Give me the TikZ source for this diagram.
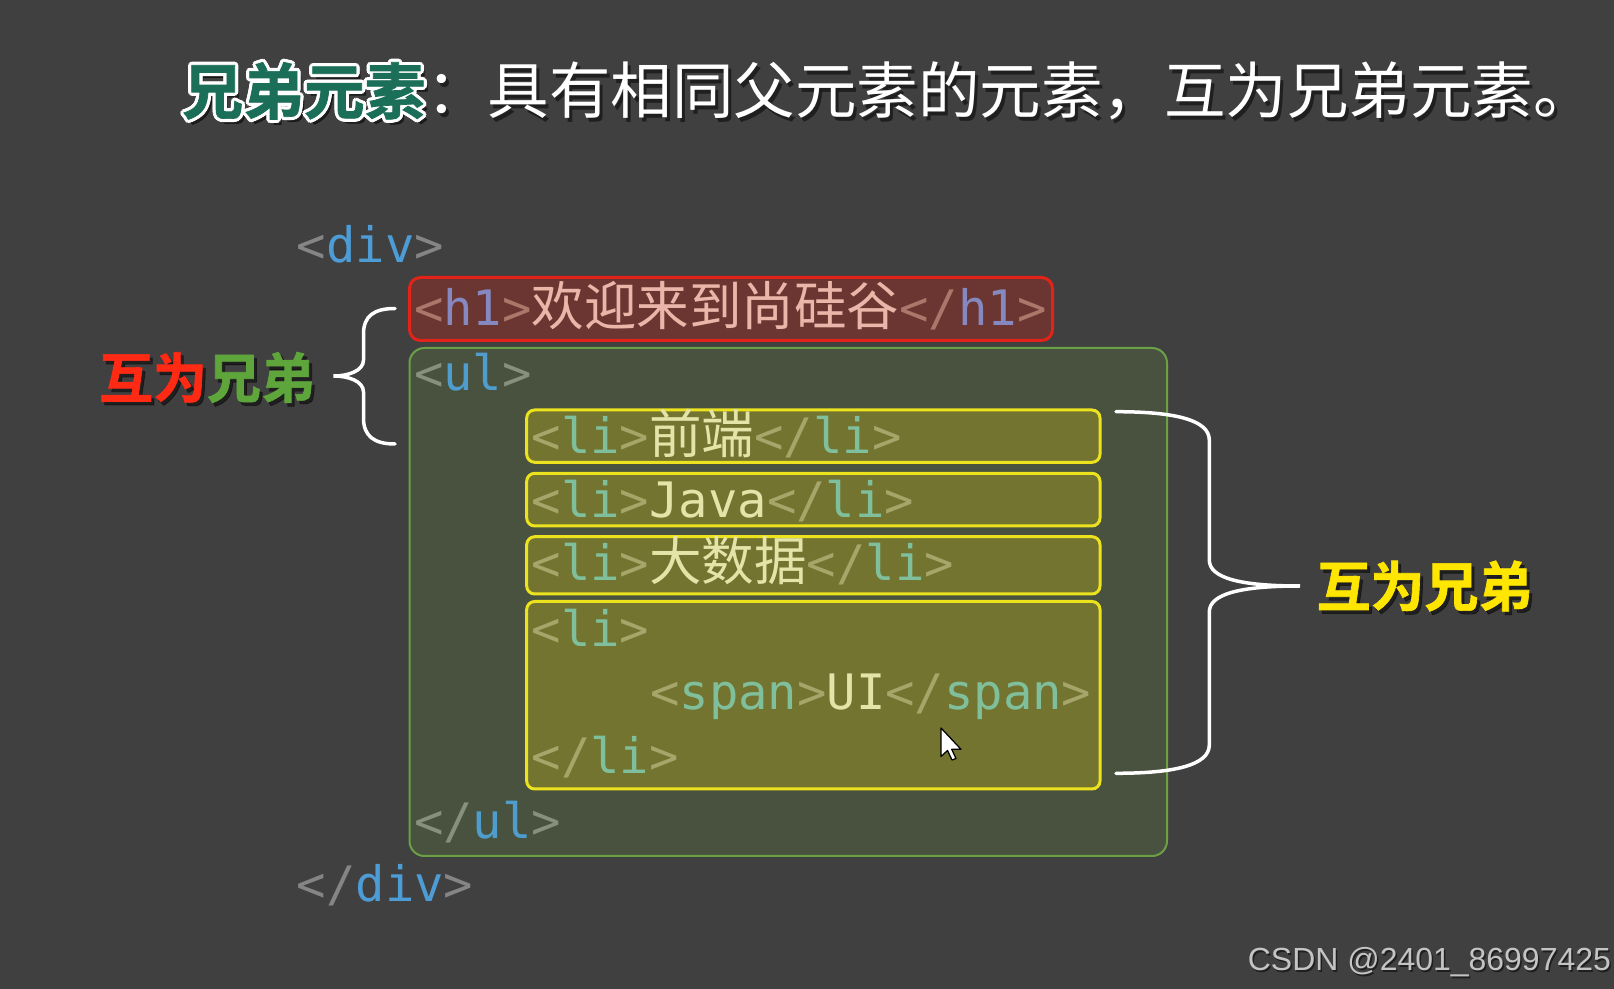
\documentclass[tikz,border=0pt]{standalone}
\usepackage{fontspec}
\usepackage{xcolor}
\usepackage{tikz}
\newfontfamily\cjk{Noto Sans CJK SC}
\newfontfamily\cjkheavy[FakeBold=1.2]{Noto Sans CJK SC Bold}
\newfontfamily\codefont{DejaVu Sans Mono}
\newfontfamily\markfont{Liberation Sans}
\definecolor{bgcolor}{HTML}{404040}
\definecolor{titlegreen}{HTML}{1B6E57}
\definecolor{sibred}{HTML}{FF2A14}
\definecolor{sibgreen}{HTML}{5EA63C}
\definecolor{sibyellow}{HTML}{FFE600}
\definecolor{divbracket}{HTML}{858585}
\definecolor{divname}{HTML}{4D9CD6}
\definecolor{hfill}{HTML}{6B3632}
\definecolor{hdraw}{HTML}{E2231A}
\definecolor{hbracket}{HTML}{AC766B}
\definecolor{hname}{HTML}{8688C0}
\definecolor{htext}{HTML}{EBB6A9}
\definecolor{ulfill}{HTML}{48523F}
\definecolor{uldraw}{HTML}{6BA046}
\definecolor{ulbracket}{HTML}{85907D}
\definecolor{ulname}{HTML}{4F9DCC}
\definecolor{lifill}{HTML}{737430}
\definecolor{lidraw}{HTML}{ECE21E}
\definecolor{libracket}{HTML}{A6A66A}
\definecolor{liname}{HTML}{80BF9B}
\definecolor{litext}{HTML}{E4E4A8}
\definecolor{markgray}{HTML}{C4C4C4}
\newcommand\tagopen[3]{\textcolor{#1}{<}\textcolor{#2}{#3}\textcolor{#1}{>}}
\newcommand\tagclose[3]{\textcolor{#1}{</}\textcolor{#2}{#3}\textcolor{#1}{>}}
\newcommand\zh[1]{{\cjk\fontsize{29.9}{32}\selectfont #1}}

\begin{document}
\begin{tikzpicture}[x=0.02cm, y=-0.02cm,
    codeline/.style={anchor=base west, inner sep=0pt,
                     font=\codefont\fontsize{27.8}{30}\selectfont},
    h1box/.style={draw=hdraw, fill=hfill, line width=0.06cm, rounded corners=0.22cm},
    ulbox/.style={draw=uldraw, fill=ulfill, line width=0.04cm, rounded corners=0.3cm},
    libox/.style={draw=lidraw, fill=lifill, line width=0.06cm, rounded corners=0.16cm},
    bracepath/.style={draw=white, line width=0.07cm, line cap=round},
    titlebold/.style={anchor=base west, inner sep=0pt, font=\cjkheavy\fontsize{34.6}{36}\selectfont},
    titleplain/.style={anchor=base west, inner sep=0pt, font=\cjk\fontsize{35}{36}\selectfont},
    sibtext/.style={inner sep=0pt, font=\cjkheavy\fontsize{30.7}{32}\selectfont},
    shadowtext/.style={text=black, text opacity=0.5}
]
\fill[bgcolor] (0,0) rectangle (1614,989);
\useasboundingbox (0,0) rectangle (1614,989);

% title
\node[titlebold, shadowtext] (sibshadow) at (186,119) {兄弟元素};
\foreach \a in {0,30,...,330}
  \node[titlebold, text=white] (glow\a) at ([shift={(\a:3.2)}]182,114) {兄弟元素};
\node[titlebold, text=titlegreen] (sib) at (182,114) {兄弟元素};
\node[titleplain, shadowtext] (restshadow) at ([shift={(3,4)}]sib.base east) {：具有相同父元素的元素，互为兄弟元素。};
\node[titleplain, text=white] (rest) at (sib.base east) {：具有相同父元素的元素，互为兄弟元素。};

% boxes
\draw[h1box] (409.5,277.5) rectangle (1052.5,340.5);
\draw[ulbox] (409.5,348) rectangle (1167,856);
\draw[libox] (526.7,410) rectangle (1100,462.3);
\draw[libox] (526.7,473.3) rectangle (1100,526);
\draw[libox] (526.7,536.7) rectangle (1100,594);
\draw[libox] (526.7,601.5) rectangle (1100,789);

% code
\node[codeline] (divopen) at (296.5,262.7) {\tagopen{divbracket}{divname}{div}};
\node[codeline] (h1line) at (413.7,326) {\tagopen{hbracket}{hname}{h1}\textcolor{htext}{\zh{欢迎来到尚硅谷}}\tagclose{hbracket}{hname}{h1}};
\node[codeline] (ulopen) at (413.7,391) {\tagopen{ulbracket}{ulname}{ul}};
\node[codeline] (lifront) at (531.4,453.5) {\tagopen{libracket}{liname}{li}\textcolor{litext}{\zh{前端}}\tagclose{libracket}{liname}{li}};
\node[codeline] (lijava) at (531.4,517.3) {\tagopen{libracket}{liname}{li}\textcolor{litext}{Java}\tagclose{libracket}{liname}{li}};
\node[codeline] (lidata) at (531.4,581) {\tagopen{libracket}{liname}{li}\textcolor{litext}{\zh{大数据}}\tagclose{libracket}{liname}{li}};
\node[codeline] (liopen) at (531.4,646.5) {\tagopen{libracket}{liname}{li}};
\node[codeline] (spanui) at (649.9,710) {\tagopen{libracket}{liname}{span}\textcolor{litext}{UI}\tagclose{libracket}{liname}{span}};
\node[codeline] (liclose) at (531.4,774) {\tagclose{libracket}{liname}{li}};
\node[codeline] (ulclose) at (413.7,838.3) {\tagclose{ulbracket}{ulname}{ul}};
\node[codeline] (divclose) at (296.5,901.7) {\tagclose{divbracket}{divname}{div}};

% braces
\coordinate (lbtop) at (395,308.5);
\coordinate (lbtip) at (333.5,376);
\coordinate (lbbot) at (395,444);
\draw[bracepath] (lbtop) .. controls (374,308.5) and (363.5,316) .. (363.5,334) -- (363.5,360)
  .. controls (363.5,371) and (348,376) .. (lbtip)
  .. controls (348,376) and (363.5,381) .. (363.5,392) -- (363.5,418)
  .. controls (363.5,436) and (374,444) .. (lbbot);
\coordinate (rbtop) at (1116,411.7);
\coordinate (rbtip) at (1300,586);
\coordinate (rbbot) at (1116,773.3);
\draw[bracepath] (rbtop) .. controls (1175,411.7) and (1209.3,420) .. (1209.3,440) -- (1209.3,560)
  .. controls (1209.3,578) and (1240,586) .. (rbtip)
  .. controls (1240,586) and (1209.3,594) .. (1209.3,612) -- (1209.3,745)
  .. controls (1209.3,765) and (1175,773.3) .. (rbbot);

% labels
\node[sibtext, shadowtext] (leftshadow) at (210,381) {互为兄弟};
\node[sibtext] (leftsib) at (207,377.5) {\textcolor{sibred}{互为}\textcolor{sibgreen}{兄弟}};
\node[sibtext, shadowtext] (rightshadow) at (1427.5,589.5) {互为兄弟};
\node[sibtext, text=sibyellow] (rightsib) at (1424.5,586) {互为兄弟};

% cursor
\draw[fill=white, draw=black, line width=0.025cm, line join=round] (941,728) -- (941,756.5) -- (947.5,750.5)
  -- (952,760) -- (956,758.5) -- (951.7,749.3) -- (961,749.3) -- cycle;

\node[anchor=base west, inner sep=0pt, font=\markfont\fontsize{18.2}{20}\selectfont, shadowtext] (markshadow) at (1249,972.2) {CSDN @2401\_86997425};
\node[anchor=base west, inner sep=0pt, font=\markfont\fontsize{18.2}{20}\selectfont, text=markgray] (mark) at (1247.5,970.7) {CSDN @2401\_86997425};
\end{tikzpicture}
\end{document}
